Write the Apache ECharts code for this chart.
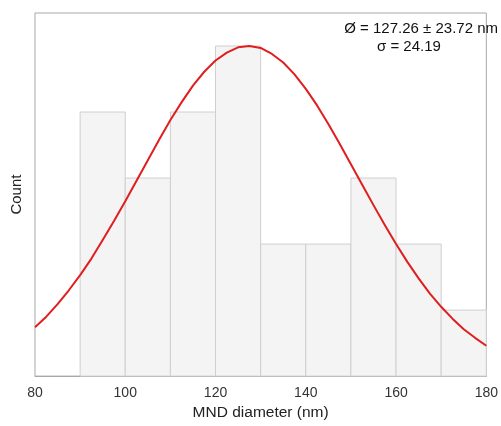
<!DOCTYPE html>
<html><head><meta charset="utf-8">
<script src="https://cdn.jsdelivr.net/npm/echarts@6/dist/echarts.min.js"></script>
<style>html,body{margin:0;padding:0;background:#fff}#c{width:501px;height:426px}</style>
</head><body><div id="c"></div>
<script>
// Histogram bins (nm) and counts
const binStarts = [90, 100, 110, 120, 130, 140, 150, 160, 170];
const binWidth = 10;
const counts = [4, 3, 4, 5, 2, 2, 3, 2, 1];
// Fitted curve points
const curveX = [80, 82.5, 85, 87.5, 90, 92.5, 95, 97.5, 100, 102.5, 105, 107.5, 110, 112.5, 115, 117.5, 120, 122.5, 125, 127.5, 130, 132.5, 135, 137.5, 140, 142.5, 145, 147.5, 150, 152.5, 155, 157.5, 160, 162.5, 165, 167.5, 170, 172.5, 175, 177.5, 180];
const curveY = [0.74, 0.90, 1.09, 1.30, 1.53, 1.78, 2.06, 2.35, 2.65, 2.96, 3.27, 3.58, 3.88, 4.15, 4.40, 4.61, 4.78, 4.90, 4.98, 5.00, 4.97, 4.88, 4.75, 4.57, 4.35, 4.10, 3.82, 3.52, 3.21, 2.90, 2.59, 2.29, 2.00, 1.73, 1.48, 1.25, 1.05, 0.87, 0.71, 0.58, 0.46];
const xTicks = [80, 100, 120, 140, 160, 180];
const annotation1 = 'Ø = 127.26 ± 23.72 nm';
const annotation2 = 'σ = 24.19';

const chart = echarts.init(document.getElementById('c'), null, {renderer: 'canvas'});
const FONT = 'Liberation Sans, Arial, sans-serif';
chart.setOption({
  animation: false,
  backgroundColor: '#fff',
  grid: {left: 35, right: 13, top: 13, bottom: 49, show: true, borderColor: '#a8a8a8', borderWidth: 1, backgroundColor: 'transparent'},
  xAxis: {
    type: 'value', min: 80, max: 180, interval: 20,
    name: 'MND diameter (nm)', nameLocation: 'middle', nameGap: 28,
    nameTextStyle: {fontFamily: FONT, fontSize: 15.5, color: '#222'},
    axisLine: {show: true, lineStyle: {color: '#a8a8a8', width: 1}},
    axisTick: {show: false},
    splitLine: {show: false},
    axisLabel: {fontFamily: FONT, fontSize: 14, color: '#333', margin: 10,
      formatter: v => xTicks.includes(v) ? String(v) : ''}
  },
  yAxis: {
    type: 'value', min: 0, max: 5.5,
    name: 'Count', nameLocation: 'middle', nameGap: 11, nameRotate: 90,
    nameTextStyle: {fontFamily: FONT, fontSize: 15, color: '#222'},
    axisLine: {show: false}, axisTick: {show: false}, axisLabel: {show: false}, splitLine: {show: false}
  },
  series: [
    {
      type: 'custom',
      data: binStarts.map((s, i) => [s, s + binWidth, counts[i]]),
      encode: {x: [0, 1], y: 2},
      renderItem: function (params, api) {
        const p1 = api.coord([api.value(0), api.value(2)]);
        const p2 = api.coord([api.value(1), 0]);
        return {
          type: 'rect',
          shape: {x: p1[0], y: p1[1], width: p2[0] - p1[0], height: p2[1] - p1[1]},
          style: {fill: '#f4f4f4', stroke: '#cfcfcf', lineWidth: 1}
        };
      },
      z: 2
    },
    {
      type: 'line',
      data: curveX.map((x, i) => [x, curveY[i]]),
      smooth: false, showSymbol: false, symbol: 'none',
      lineStyle: {color: '#e01e1e', width: 2, join: 'round'},
      z: 3
    }
  ],
  graphic: [
    {type: 'text', right: 3, top: 21, z: 10,
      style: {text: annotation1, font: '15px ' + FONT, fill: '#111'}},
    {type: 'text', left: 377, top: 39, z: 10,
      style: {text: annotation2, font: '15px ' + FONT, fill: '#111'}}
  ]
});
</script></body></html>
